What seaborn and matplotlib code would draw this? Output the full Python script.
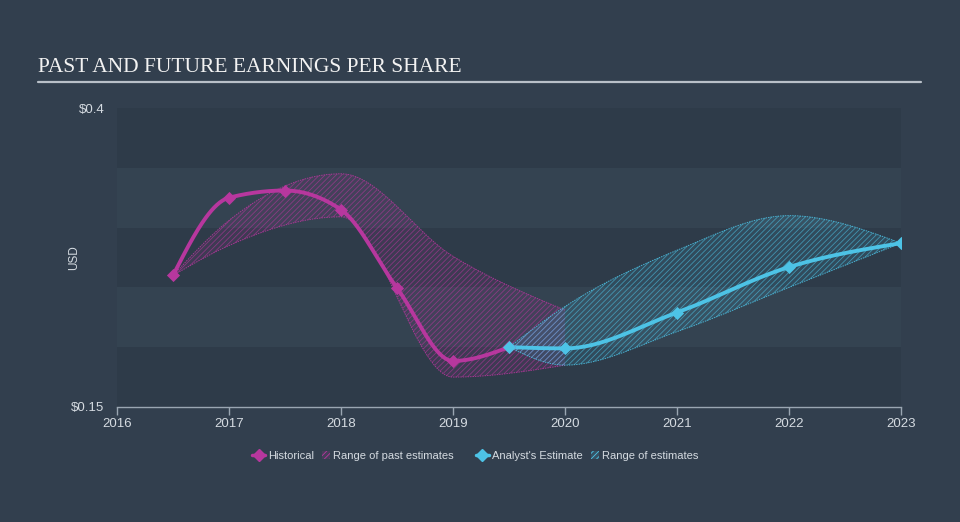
import numpy as np
import pandas as pd
import matplotlib
matplotlib.use("Agg")
import matplotlib.pyplot as plt
from matplotlib.lines import Line2D
from matplotlib.patches import Patch
import seaborn as sns

# ---- data ----
hist_x = [2016.5, 2017.0, 2017.5, 2018.0, 2018.5, 2019.0, 2019.5]
hist_y = [0.260, 0.325, 0.331, 0.315, 0.2495, 0.1885, 0.200]

est_x = [2019.5, 2020.0, 2021.0, 2022.0, 2023.0]
est_y = [0.200, 0.199, 0.229, 0.267, 0.287]

past_rng_x = [2016.5, 2017.0, 2018.0, 2019.0, 2020.0]
past_rng_hi = [0.260, 0.306, 0.345, 0.276, 0.231]
past_rng_lo = [0.260, 0.285, 0.309, 0.175, 0.185]

fut_rng_x = [2019.5, 2020.0, 2021.0, 2022.0, 2023.0]
fut_rng_hi = [0.200, 0.234, 0.281, 0.310, 0.287]
fut_rng_lo = [0.200, 0.185, 0.213, 0.250, 0.287]

x_ticks = [2016, 2017, 2018, 2019, 2020, 2021, 2022, 2023]
y_ticks = [0.15, 0.4]
y_tick_labels = ["$0.15", "$0.4"]

title = "PAST AND FUTURE EARNINGS PER SHARE"

# ---- style ----
BG = "#323f4e"
BAND_DARK = "#2e3b49"
BAND_LIGHT = "#344351"
MAG = "#b7379e"
CYAN = "#4dc3e6"
TXT = "#d5dbe1"


def monotone(x, y, n=60):
    x = np.asarray(x, float)
    y = np.asarray(y, float)
    k = len(x)
    h = np.diff(x)
    s = np.diff(y) / h
    m = np.zeros(k)
    for i in range(1, k - 1):
        p = (s[i - 1] * h[i] + s[i] * h[i - 1]) / (h[i - 1] + h[i])
        m[i] = (np.sign(s[i - 1]) + np.sign(s[i])) * min(abs(s[i - 1]), abs(s[i]), 0.5 * abs(p))
    m[0] = (3 * s[0] - m[1]) / 2 if k > 2 else s[0]
    m[-1] = (3 * s[-1] - m[-2]) / 2 if k > 2 else s[-1]
    xs, ys = [], []
    for i in range(k - 1):
        t = np.linspace(0, 1, n, endpoint=(i == k - 2))
        hh = h[i]
        h00 = 2 * t**3 - 3 * t**2 + 1
        h10 = t**3 - 2 * t**2 + t
        h01 = -2 * t**3 + 3 * t**2
        h11 = t**3 - t**2
        xs.append(x[i] + t * hh)
        ys.append(h00 * y[i] + h10 * hh * m[i] + h01 * y[i + 1] + h11 * hh * m[i + 1])
    return np.concatenate(xs), np.concatenate(ys)


sns.set_theme(style="dark")
plt.rcParams["font.family"] = ["Liberation Sans", "DejaVu Sans"]
plt.rcParams["hatch.linewidth"] = 0.6

fig = plt.figure(figsize=(9.6, 5.22), dpi=100, facecolor=BG)
ax = fig.add_axes([117 / 960, 1 - 407 / 522, 784 / 960, 299 / 522])
ax.set_facecolor(BG)

# horizontal bands
edges = np.linspace(0.15, 0.4, 6)
for i in range(5):
    ax.axhspan(edges[i], edges[i + 1], color=BAND_DARK if i % 2 == 0 else BAND_LIGHT, lw=0, zorder=0)

# ranges
for rx, lo, hi, col in [(past_rng_x, past_rng_lo, past_rng_hi, MAG),
                         (fut_rng_x, fut_rng_lo, fut_rng_hi, CYAN)]:
    xs, ylo = monotone(rx, lo)
    _, yhi = monotone(rx, hi)
    ax.fill_between(xs, ylo, yhi, facecolor=matplotlib.colors.to_rgba(col, 0.12),
                    edgecolor=matplotlib.colors.to_rgba(col, 0.6), hatch="//////", lw=0, zorder=2)
    ax.plot(xs, ylo, color=col, lw=0.7, ls=(0, (1.5, 1)), alpha=0.85, zorder=2)
    ax.plot(xs, yhi, color=col, lw=0.7, ls=(0, (1.5, 1)), alpha=0.85, zorder=2)

# lines
for px, py, col in [(hist_x, hist_y, MAG), (est_x, est_y, CYAN)]:
    xs, ys = monotone(px, py)
    df_line = pd.DataFrame({"x": xs, "y": ys})
    sns.lineplot(data=df_line, x="x", y="y", ax=ax, color=col, lw=2.8, sort=False, zorder=4)
    df_pts = pd.DataFrame({"x": px, "y": py})
    sns.scatterplot(data=df_pts, x="x", y="y", ax=ax, color=col, marker="D", s=45,
                    edgecolor=col, linewidth=0, zorder=5)

ax.set_xlim(2016, 2023)
ax.set_ylim(0.15, 0.4)
ax.set_xticks(x_ticks)
ax.set_xticklabels([str(t) for t in x_ticks], color=TXT, fontsize=9.5)
ax.set_yticks(y_ticks)
ax.set_yticklabels(y_tick_labels, color=TXT, fontsize=9.5)
ax.tick_params(axis="x", length=6, width=1, color="#9aa6b2", pad=2, direction="out", bottom=True)
ax.tick_params(axis="y", length=0, pad=9)
ax.set_xlabel("")
ax.set_ylabel("USD", color=TXT, fontsize=8.5)
ax.yaxis.set_label_coords((80 - 117) / 784, 0.5)
for sp in ["top", "right", "left"]:
    ax.spines[sp].set_visible(False)
ax.spines["bottom"].set_visible(True)
ax.spines["bottom"].set_color("#9aa6b2")
ax.spines["bottom"].set_linewidth(1)
ax.grid(False)

# title
fig.text(38 / 960, 1 - 68 / 522, title, color="#f2f2f2", fontsize=15.5,
         family=["Liberation Serif", "DejaVu Serif"], va="center", ha="left")
fig.add_artist(Line2D([38 / 960, 921 / 960], [1 - 82 / 522, 1 - 82 / 522],
                      color="#b9c0c8", lw=1.6, transform=fig.transFigure))

# legends (two groups)
groups = [
    ([Line2D([], [], color=MAG, lw=2.5, marker="D", ms=6),
      Patch(facecolor=matplotlib.colors.to_rgba(MAG, 0.15), edgecolor=MAG, hatch="//////", lw=0)],
     ["Historical", "Range of past estimates"], 353),
    ([Line2D([], [], color=CYAN, lw=2.5, marker="D", ms=6),
      Patch(facecolor=matplotlib.colors.to_rgba(CYAN, 0.15), edgecolor=CYAN, hatch="//////", lw=0)],
     ["Analyst's Estimate", "Range of estimates"], 587),
]
for hnd, lab, cx in groups:
    leg = fig.legend(hnd, lab, loc="center", bbox_to_anchor=(cx / 960, 1 - 456 / 522),
                     ncol=2, frameon=False, fontsize=8, handlelength=1.2, handletextpad=0.3,
                     columnspacing=0.2, labelcolor=TXT, handleheight=0.8,
                     borderpad=0, borderaxespad=0)
    for h in leg.legend_handles:
        if isinstance(h, Patch):
            w = h.get_width()
            h.set_width(w * 0.6)
            h.set_x(h.get_x() + w * 0.4)

fig.savefig("out.png", dpi=100, facecolor=BG)
